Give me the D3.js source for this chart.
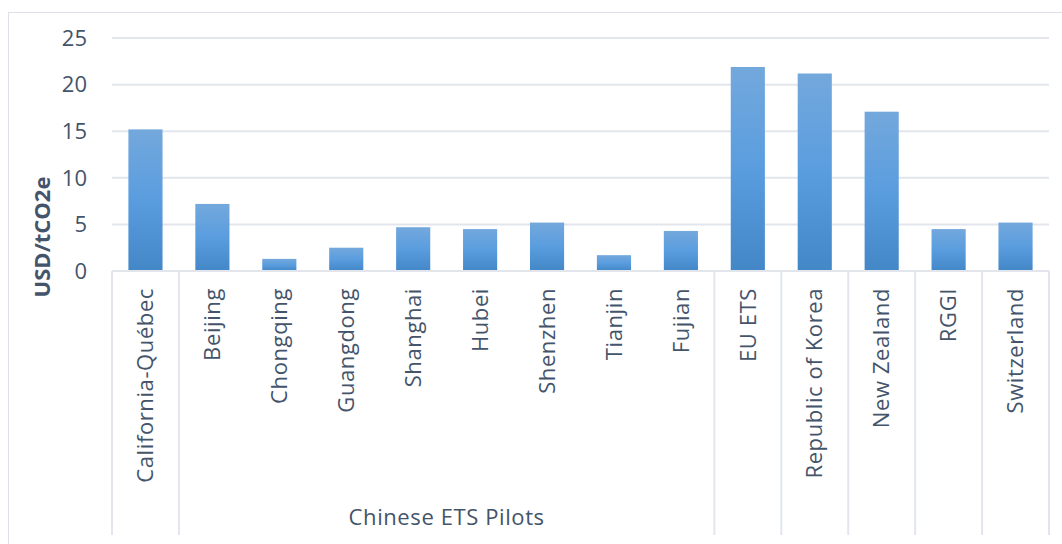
<!DOCTYPE html>
<html><head><meta charset="utf-8">
<script src="https://cdn.jsdelivr.net/npm/d3@7"></script>
<style>body{margin:0;background:#fff}svg{display:block}</style>
</head><body>
<svg id="c" width="1062" height="544"></svg>
<script>
const categories = ["California-Québec","Beijing","Chongqing","Guangdong","Shanghai","Hubei","Shenzhen","Tianjin","Fujian","EU ETS","Republic of Korea","New Zealand","RGGI","Switzerland"];
const values = [15.2,7.2,1.3,2.5,4.7,4.5,5.2,1.7,4.3,21.9,21.2,17.1,4.5,5.2];
const groups = [{label:"Chinese ETS Pilots", start:1, end:8}];
const yTicks = [0,5,10,15,20,25];
const yTitle = "USD/tCO2e";

(function(){
const svg = d3.select("#c");
const font = "'Open Sans', sans-serif";
const txt = "#44546a";
const grid = "#e2e6ec";
const pLeft = 112, pRight = 1049, pTop = 38.1, base = 271;

const defs = svg.append("defs");
const g = defs.append("linearGradient").attr("id","bg").attr("x1",0).attr("y1",0).attr("x2",0).attr("y2",1);
g.append("stop").attr("offset","0%").attr("stop-color","#73a8dc");
g.append("stop").attr("offset","50%").attr("stop-color","#5a9ddf");
g.append("stop").attr("offset","100%").attr("stop-color","#4487c7");

// outer frame
svg.append("rect").attr("x",8.5).attr("y",12.5).attr("width",1070).attr("height",600)
  .attr("fill","none").attr("stroke","#dde1e7").attr("stroke-width",1);

const x = d3.scaleBand().domain(d3.range(categories.length)).range([pLeft,pRight]).paddingInner(0.49).paddingOuter(0.245);
const xb = d3.scaleBand().domain(d3.range(categories.length)).range([pLeft,pRight]);
const y = d3.scaleLinear().domain([0,25]).range([base,pTop]);

// gridlines
svg.append("g").selectAll("line").data(yTicks.slice(1)).join("line")
  .attr("x1",pLeft).attr("x2",pRight).attr("y1",d=>y(d)).attr("y2",d=>y(d))
  .attr("stroke",grid).attr("stroke-width",2);

// y tick labels
svg.append("g").selectAll("text").data(yTicks).join("text")
  .attr("x",87).attr("y",d=>y(d)).attr("dy","0.35em").attr("text-anchor","end")
  .attr("font-family",font).attr("font-size",22).attr("fill",txt).text(d=>d);

// y title
svg.append("text").attr("transform",`translate(42,237) rotate(-90)`)
  .attr("text-anchor","middle").attr("dy","0.35em")
  .attr("font-family",font).attr("font-size",22).attr("font-weight","bold").attr("fill",txt).text(yTitle);

// bars
svg.append("g").selectAll("rect").data(values).join("rect")
  .attr("x",(d,i)=>x(i)).attr("width",x.bandwidth())
  .attr("y",d=>y(d)).attr("height",d=>base-y(d)).attr("fill","url(#bg)");

// baseline
svg.append("line").attr("x1",pLeft).attr("x2",pRight).attr("y1",base).attr("y2",base)
  .attr("stroke",grid).attr("stroke-width",2);

// category separators
const inner = new Set();
groups.forEach(gr=>{for(let i=gr.start+1;i<=gr.end;i++) inner.add(i);});
const seps = d3.range(categories.length+1).filter(i=>!inner.has(i));
svg.append("g").selectAll("line").data(seps).join("line")
  .attr("x1",i=>i<categories.length?xb(i):pRight).attr("x2",i=>i<categories.length?xb(i):pRight)
  .attr("y1",base).attr("y2",535).attr("stroke",grid).attr("stroke-width",2);

// category labels
svg.append("g").selectAll("text").data(categories).join("text")
  .attr("transform",(d,i)=>`translate(${xb(i)+xb.bandwidth()/2},288) rotate(-90)`)
  .attr("text-anchor","end").attr("dy","0.35em")
  .attr("font-family",font).attr("font-size",22).attr("letter-spacing","0.6px").attr("fill",txt).text(d=>d);

// group labels
svg.append("g").selectAll("text").data(groups).join("text")
  .attr("x",d=>(xb(d.start)+xb(d.end)+xb.bandwidth())/2).attr("y",525)
  .attr("text-anchor","middle").attr("font-family",font).attr("font-size",22).attr("letter-spacing","0.6px").attr("fill",txt).text(d=>d.label);
})();
</script>
</body></html>
